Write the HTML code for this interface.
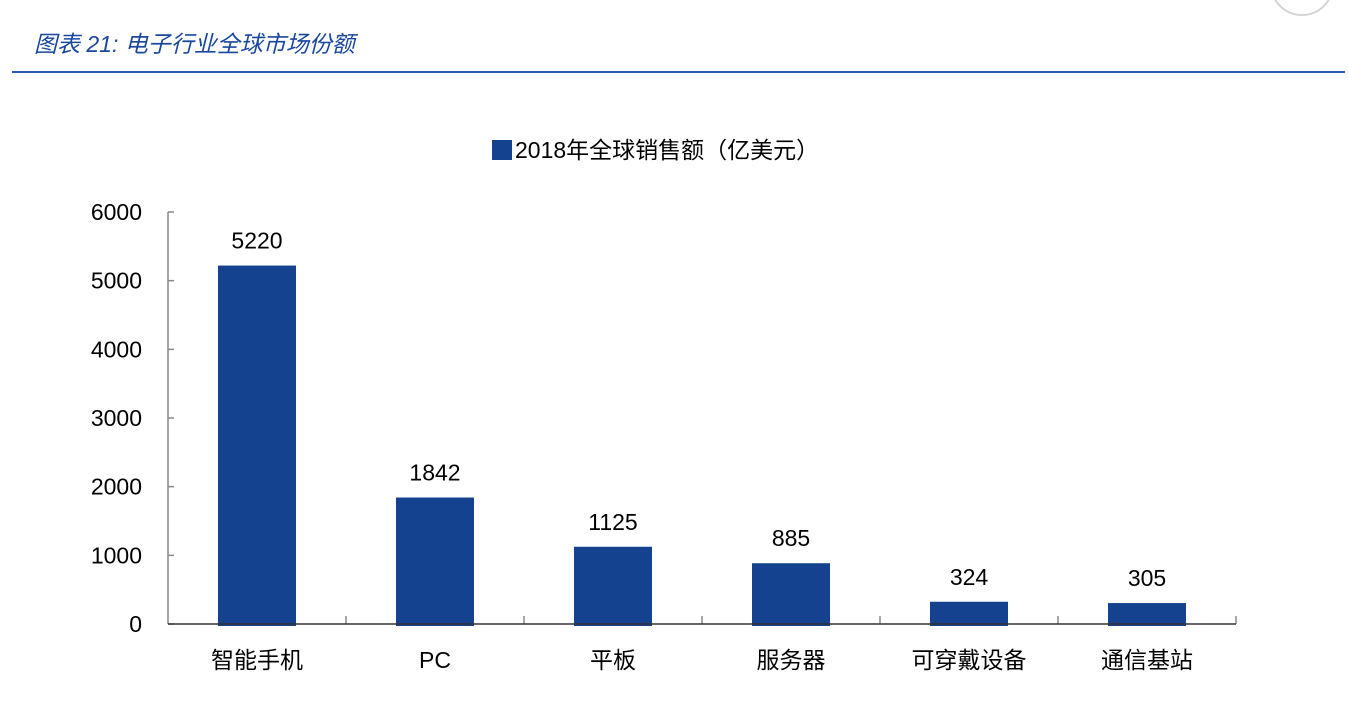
<!DOCTYPE html>
<html><head><meta charset="utf-8"><style>
body{margin:0;background:#fff;width:1348px;height:702px;overflow:hidden;font-family:"Liberation Sans","Noto Sans CJK SC",sans-serif}
</style></head><body>
<svg width="1348" height="702" xmlns="http://www.w3.org/2000/svg">
<circle cx="1302" cy="-16" r="31" fill="#fff" stroke="#d4d4d4" stroke-width="2"/>
<text x="34" y="52" font-size="23" font-style="italic" fill="#1a47a0" font-family="Liberation Sans,Noto Sans CJK SC,sans-serif">图表 21:  电子行业全球市场份额</text>
<line x1="12" y1="72" x2="1345" y2="72" stroke="#2a55b0" stroke-width="2"/>
<rect x="492" y="140" width="20" height="20" fill="#15428f"/>
<text x="515" y="158" font-size="23" fill="#000">2018年全球销售额（亿美元）</text>
<g id="plot"></g>
</svg>
<script>
const categories=["智能手机","PC","平板","服务器","可穿戴设备","通信基站"];
const values=[5220,1842,1125,885,324,305];
const yTicks=[0,1000,2000,3000,4000,5000,6000];
const NS="http://www.w3.org/2000/svg";
const g=document.getElementById('plot');
const x0=168,y0=624,yTop=212,catW=178,barW=78,yMax=6000;
const y=v=>y0-(v/yMax)*(y0-yTop);
function mk(t,a){const e=document.createElementNS(NS,t);for(const k in a)e.setAttribute(k,a[k]);g.appendChild(e);return e;}
let ax=mk('line',{x1:x0,y1:yTop,x2:x0,y2:y0,stroke:'#888','stroke-width':1.5});


yTicks.forEach(t=>{
 const l=mk('line',{x1:x0,y1:y(t),x2:x0+6,y2:y(t),stroke:'#888','stroke-width':1.5});
 
 
 const tx=mk('text',{x:x0-26,y:y(t)+8,'font-size':23,'text-anchor':'end',fill:'#000'});
 tx.textContent=t;
 
 
});
categories.forEach((c,i)=>{
 const cx=x0+catW*(i+0.5);
 const b=mk('rect',{x:cx-barW/2,y:y(values[i]),width:barW,height:y0+2-y(values[i]),fill:'#15428f'});
 
 
 const v=mk('text',{x:cx,y:y(values[i])-17,'font-size':23,'text-anchor':'middle',fill:'#000'});
 v.textContent=values[i];
 
 
 const tl=mk('text',{x:cx,y:668,'font-size':23,'text-anchor':'middle',fill:'#000'});
 tl.textContent=c;
 
 
 const tk=mk('line',{x1:x0+catW*(i+1),y1:y0,x2:x0+catW*(i+1),y2:y0-8,stroke:'#888','stroke-width':1.5});
 
 
});
let xa=mk('line',{x1:x0,y1:y0,x2:x0+catW*categories.length,y2:y0,stroke:'#333','stroke-width':1.5});


</script>
</body></html>
